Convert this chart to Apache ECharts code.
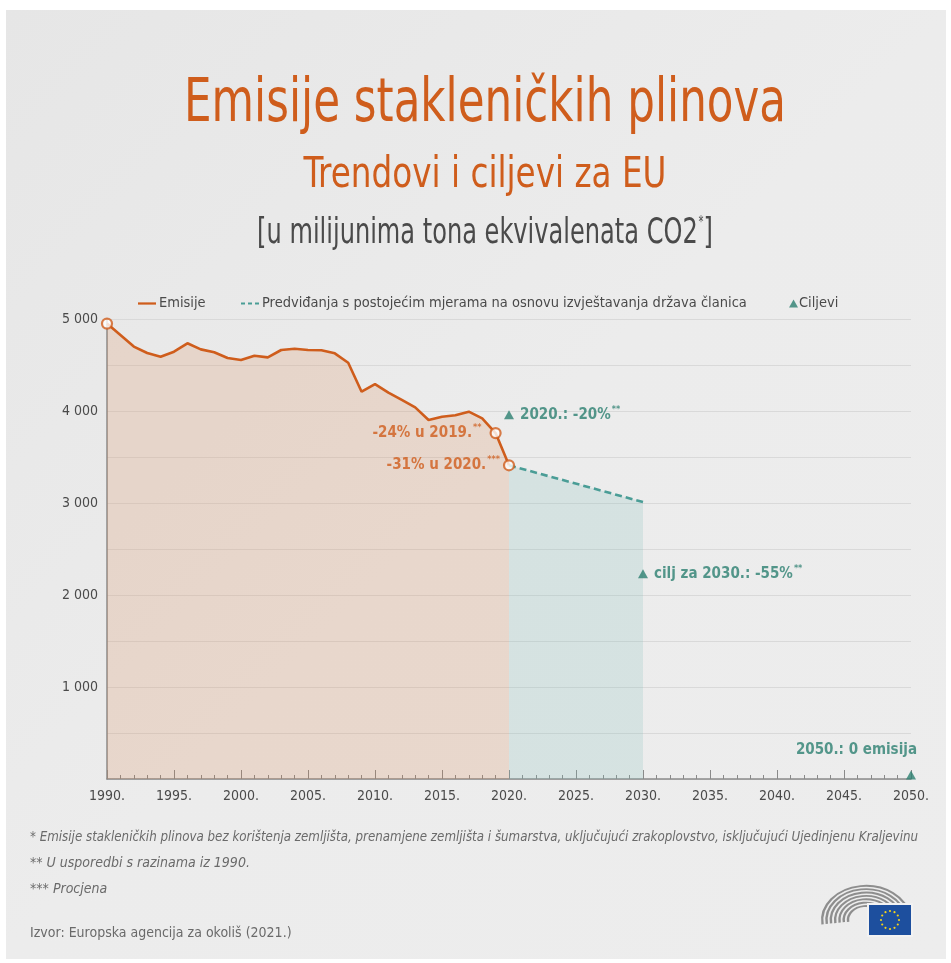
<!DOCTYPE html>
<html>
<head>
<meta charset="utf-8">
<script src="https://cdn.jsdelivr.net/npm/echarts@6/dist/echarts.min.js"></script>
<style>
  html, body { margin: 0; padding: 0; background: #fff; }
  #chart { width: 951px; height: 963px; }
</style>
</head>
<body>
<div id="chart"></div>
<script>
  // podaci
  const years = [1990, 1991, 1992, 1993, 1994, 1995, 1996, 1997, 1998, 1999, 2000, 2001, 2002, 2003, 2004, 2005,
    2006, 2007, 2008, 2009, 2010, 2011, 2012, 2013, 2014, 2015, 2016, 2017, 2018, 2019, 2020]
  const emissions = [4950, 4826, 4700, 4630, 4590, 4645, 4736, 4670, 4638, 4576, 4554, 4601, 4583, 4663, 4677, 4663,
    4660, 4627, 4525, 4210, 4293, 4199, 4120, 4040, 3902, 3938, 3953, 3993, 3920, 3760, 3410]
  const projYears = [2020, 2030]
  const projValues = [3410, 3010]
  const markedYears = [1990, 2019, 2020]
  const markedLabels = ['', '-24% u 2019.', '-31% u 2020.']
  const markedSup = ['', '**', '***']
  const targetYears = [2020, 2030, 2050]
  const targetValues = [3960, 2230, 0]
  const targetLabels = ['2020.: -20%', 'cilj za 2030.: -55%', '2050.: 0 emisija']
  const targetSup = ['**', '**', '']
  const yTicks = [1000, 2000, 3000, 4000, 5000]

  const FONT = "'Liberation Sans Narrow', 'DejaVu Sans Condensed', 'Noto Sans', sans-serif"
  const ORANGE = '#cf5d1c'
  const TEAL = '#2c7f70'
  const TEAL_LINE = '#4a9d96'
  const GRAY = '#4a4a4a'

  const chart = echarts.init(document.getElementById('chart'))

  // mjerenje teksta da bi se suzio na sirinu kao u originalu (nema uskog fonta)
  const measureCtx = document.createElement('canvas').getContext('2d')
  function fitScale (text, font, width) {
    measureCtx.font = font
    return width / measureCtx.measureText(text).width
  }

  function titleText (text, plain, size, color, y, width, rich) {
    let font = size + 'px ' + FONT
    let sx = fitScale(plain, font, width)
    return {
      type: 'text',
      x: 485,
      y: y,
      scaleX: sx,
      style: {
        text: text,
        font: font,
        fill: color,
        align: 'center',
        verticalAlign: 'top',
        rich: rich
      }
    }
  }

  const emissionData = years.map((y, i) => [y, emissions[i]])
  const projData = projYears.map((y, i) => [y, projValues[i]])
  const markedData = markedYears.map((y, i) => ({
    value: [y, emissions[years.indexOf(y)]],
    label: {
      show: markedLabels[i] !== '',
      position: 'left',
      distance: i === 1 ? 8 : 3,
      formatter: '{m|' + markedLabels[i] + '}{s|' + markedSup[i] + '}'
    }
  }))
  const targetData = targetYears.map((y, i) => {
    let item = {
      value: [y, targetValues[i]],
      label: {
        formatter: targetSup[i] ? '{m|' + targetLabels[i] + '}{s|' + targetSup[i] + '}' : '{m|' + targetLabels[i] + '}'
      }
    }
    if (y === 2050) {
      item.symbolOffset = [0, -4]
      item.label.position = 'top'
      item.label.align = 'right'
      item.label.offset = [6, -4]
    }
    return item
  })

  const labelRich = (color) => ({
    m: { fontFamily: FONT, fontSize: 15, fontWeight: 'bold', color: color, lineHeight: 20 },
    s: { fontFamily: FONT, fontSize: 9, fontWeight: 'bold', color: color, verticalAlign: 'top', lineHeight: 20, padding: [0, 0, 8, 1] }
  })

  // logo: polukrug i zastava
  const logo = []
  for (let k = 0; k < 7; k++) {
    logo.push({
      type: 'arc',
      x: 866,
      y: 920,
      scaleY: 0.78,
      shape: { cx: 0, cy: 0, r: 18 + k * 4.3, startAngle: Math.PI * 0.96, endAngle: Math.PI * 2.03 },
      style: { stroke: '#8e8e8e', lineWidth: 2.4, fill: null }
    })
  }
  logo.push({
    type: 'rect',
    shape: { x: 868, y: 904, width: 44, height: 32 },
    style: { fill: '#1d4f9e', stroke: '#f2f2f2', lineWidth: 2 }
  })
  for (let s = 0; s < 12; s++) {
    let a = s / 12 * Math.PI * 2
    logo.push({
      type: 'circle',
      shape: { cx: 890 + Math.cos(a) * 9, cy: 920 + Math.sin(a) * 9, r: 1.1 },
      style: { fill: '#f4d31a' }
    })
  }

  const note1 = '* Emisije stakleničkih plinova bez korištenja zemljišta, prenamjene zemljišta i šumarstva, uključujući zrakoplovstvo, isključujući Ujedinjenu Kraljevinu'
  const noteText = (text, y, italic, fitWidth) => {
    let font = (italic ? 'italic ' : '') + '14px ' + FONT
    return {
      type: 'text',
      x: 30,
      y: y,
      scaleX: fitWidth ? fitScale(text, font, fitWidth) : 1,
      style: { text: text, fill: '#6a6a6a', font: font, verticalAlign: 'middle' }
    }
  }

  const option = {
    backgroundColor: '#fff',
    animation: false,
    legend: [
      {
        data: ['Emisije'],
        left: 133, top: 291,
        icon: 'path://M0,0 L20,0 L20,2.5 L0,2.5 Z',
        itemWidth: 18, itemHeight: 3, itemGap: 4,
        textStyle: { fontFamily: FONT, fontSize: 14.5, color: GRAY, padding: [0, 0, 0, -2] }
      },
      {
        data: ['Predviđanja s postojećim mjerama na osnovu izvještavanja država članica'],
        left: 236, top: 291,
        icon: 'path://M0,0 L4,0 L4,2 L0,2 Z M7,0 L11,0 L11,2 L7,2 Z M14,0 L18,0 L18,2 L14,2 Z',
        itemWidth: 18, itemHeight: 2,
        textStyle: { fontFamily: FONT, fontSize: 14.5, color: GRAY, padding: [0, 0, 0, -2] }
      },
      {
        data: ['Ciljevi'],
        left: 784, top: 291,
        icon: 'triangle',
        itemWidth: 9, itemHeight: 8,
        textStyle: { fontFamily: FONT, fontSize: 14.5, color: GRAY, padding: [0, 0, 0, -4] }
      }
    ],
    grid: { left: 107, right: 40, top: 319, bottom: 184 },
    xAxis: {
      type: 'value',
      min: 1990,
      max: 2050,
      interval: 5,
      axisLine: { show: true, lineStyle: { color: '#8a8a8a', width: 1.5 } },
      axisTick: { show: true, inside: true, length: 9, lineStyle: { color: '#8a8a8a' } },
      minorTick: { show: true, splitNumber: 5, length: 4, lineStyle: { color: '#8a8a8a' } },
      splitLine: { show: false },
      axisLabel: {
        formatter: (v) => v + '.',
        fontFamily: FONT, fontSize: 14, color: GRAY, margin: 10
      }
    },
    yAxis: {
      type: 'value',
      min: 0,
      max: 5000,
      interval: 1000,
      axisLine: { show: true, lineStyle: { color: '#8a8a8a', width: 1.5 } },
      axisTick: { show: false },
      minorTick: { show: false, splitNumber: 2 },
      splitLine: { show: true, lineStyle: { color: '#d9d9d9', width: 1 } },
      minorSplitLine: { show: true, lineStyle: { color: '#d9d9d9', width: 1 } },
      axisLabel: {
        formatter: (v) => yTicks.indexOf(v) >= 0 ? String(v).replace(/(\d)(\d{3})$/, '$1 $2') : '',
        fontFamily: FONT, fontSize: 14, color: GRAY, margin: 9
      }
    },
    graphic: [
      {
        type: 'rect',
        z: -10,
        silent: true,
        shape: { x: 6, y: 10, width: 940, height: 949 },
        style: {
          fill: {
            type: 'linear', x: 0, y: 0, x2: 1, y2: 1,
            colorStops: [
              { offset: 0, color: '#e6e6e6' },
              { offset: 0.5, color: '#ececec' },
              { offset: 1, color: '#ededed' }
            ]
          }
        }
      },
      titleText('Emisije stakleničkih plinova', 'Emisije stakleničkih plinova', 60, ORANGE, 75, 602),
      titleText('Trendovi i ciljevi za EU', 'Trendovi i ciljevi za EU', 43, ORANGE, 154, 363),
      titleText('[u milijunima tona ekvivalenata CO2{s|*}]', '[u milijunima tona ekvivalenata CO2]', 36, GRAY, 216, 450,
        { s: { font: '15px ' + FONT, fill: GRAY, verticalAlign: 'top', padding: [0, 0, 18, 1] } }),
      noteText(note1, 837, true, 888),
      noteText('** U usporedbi s razinama iz 1990.', 863, true),
      noteText('*** Procjena', 889, true),
      noteText('Izvor: Europska agencija za okoliš (2021.)', 933, false)
    ].concat(logo),
    series: [
      {
        name: 'Emisije',
        type: 'line',
        data: emissionData,
        symbol: 'none',
        color: ORANGE,
        lineStyle: { color: ORANGE, width: 2.6 },
        areaStyle: { color: 'rgba(214, 120, 62, 0.26)' },
        z: 3
      },
      {
        name: 'Predviđanja s postojećim mjerama na osnovu izvještavanja država članica',
        type: 'line',
        data: projData,
        symbol: 'none',
        color: TEAL_LINE,
        lineStyle: { color: TEAL_LINE, width: 2.6, type: [7, 4] },
        areaStyle: { color: 'rgba(120, 190, 185, 0.28)' },
        z: 2
      },
      {
        name: 'tocke',
        type: 'scatter',
        data: markedData,
        symbol: 'circle',
        symbolSize: 10,
        itemStyle: { color: '#fff', borderColor: ORANGE, borderWidth: 2.2 },
        label: { rich: labelRich(ORANGE) },
        z: 5
      },
      {
        name: 'Ciljevi',
        type: 'scatter',
        data: targetData,
        symbol: 'triangle',
        symbolSize: [10, 9],
        color: TEAL,
        itemStyle: { color: TEAL },
        label: { show: true, position: 'right', distance: 6, rich: labelRich(TEAL) },
        z: 5
      }
    ]
  }

  chart.setOption(option)
  window.addEventListener('resize', () => {
    chart.resize()
  })
</script>
</body>
</html>
